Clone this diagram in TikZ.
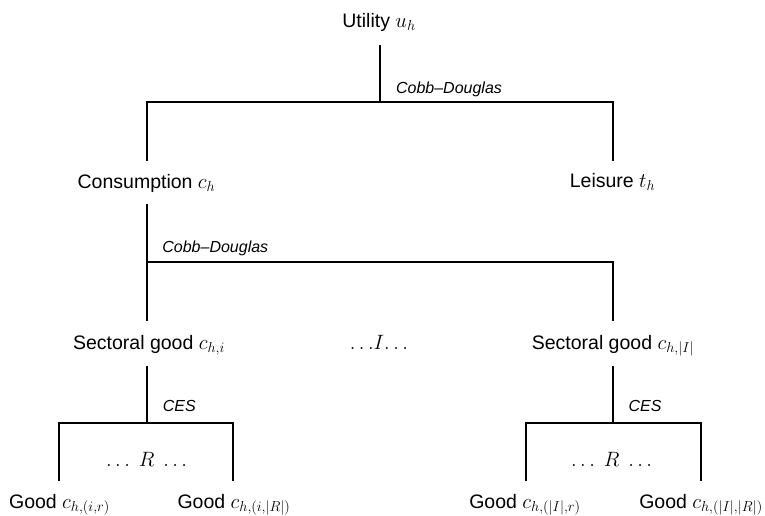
\documentclass[tikz,border=0pt]{standalone}
\usepackage{fontspec}
\setmainfont{Liberation Sans}
\begin{document}
\begin{tikzpicture}[x=1pt,y=-1pt,line width=2pt]
\useasboundingbox (0,0) rectangle (765,516);
\tikzset{
  lbl/.style={font=\fontsize{19.5}{22}\selectfont, inner sep=0pt, anchor=base},
  fn/.style={font=\fontsize{16}{18}\selectfont\itshape, inner sep=0pt, anchor=base},
  link/.style={draw=black, line width=2pt}
}
% nodes
\node[lbl] (u)  at (379,27.5)   {Utility $u_h$};
\node[lbl] (c)  at (146.5,188.3) {Consumption $c_h$};
\node[lbl] (t)  at (612.5,187.7) {Leisure $t_h$};
\node[lbl] (s1) at (149,349)   {Sectoral good $c_{h,i}$};
\node[lbl] (dI) at (379,349)   {$\ldots\! I\!\ldots$};
\node[lbl] (s2) at (613,349)   {Sectoral good $c_{h,|I|}$};
\node[lbl] (r1) at (146.7,466.7) {$\ldots\ R\ \ldots$};
\node[lbl] (r2) at (611.7,466.7) {$\ldots\ R\ \ldots$};
\node[lbl] (g1) at (59.5,508)  {Good $c_{h,(i,r)}$};
\node[lbl] (g2) at (234,508)   {Good $c_{h,(i,|R|)}$};
\node[lbl] (g3) at (525,508)   {Good $c_{h,(|I|,r)}$};
\node[lbl] (g4) at (701,508)   {Good $c_{h,(|I|,|R|)}$};
% function labels
\node[fn] (f1) at (449,93.3)   {Cobb--Douglas};
\node[fn] (f2) at (215.3,252.3) {Cobb--Douglas};
\node[fn] (f3) at (179.3,411)  {CES};
\node[fn] (f4) at (645,411)    {CES};
% connector points
\coordinate (ua) at (380,45);     \coordinate (ub) at (380,102);
\coordinate (ca) at (146.7,102);  \coordinate (cb) at (146.7,160.7);
\coordinate (ta) at (612.7,102);  \coordinate (tb) at (612.7,160.7);
\coordinate (cc) at (146.7,204);  \coordinate (cd) at (146.7,262);
\coordinate (sa) at (146.7,320.7);
\coordinate (se) at (612.7,262);  \coordinate (sf) at (612.7,320.7);
\coordinate (s1a) at (146.7,365.7); \coordinate (s1b) at (146.7,422.7);
\coordinate (g1a) at (59.3,422.7);  \coordinate (g1b) at (59.3,481);
\coordinate (g2a) at (233.3,422.7); \coordinate (g2b) at (233.3,481);
\coordinate (s2a) at (612.7,365.7); \coordinate (s2b) at (612.7,422.7);
\coordinate (g3a) at (526,422.7);   \coordinate (g3b) at (526,481);
\coordinate (g4a) at (701,422.7);   \coordinate (g4b) at (701,481);
% connectors
\draw[link] (ua) -- (ub);
\draw[link] (cb) -- (ca) -- (ta) -- (tb);
\draw[link] (cc) -- (sa);
\draw[link] (cd) -- (se) -- (sf);
\draw[link] (s1a) -- (s1b);
\draw[link] (g1b) -- (g1a) -- (g2a) -- (g2b);
\draw[link] (s2a) -- (s2b);
\draw[link] (g3b) -- (g3a) -- (g4a) -- (g4b);
\end{tikzpicture}
\end{document}
